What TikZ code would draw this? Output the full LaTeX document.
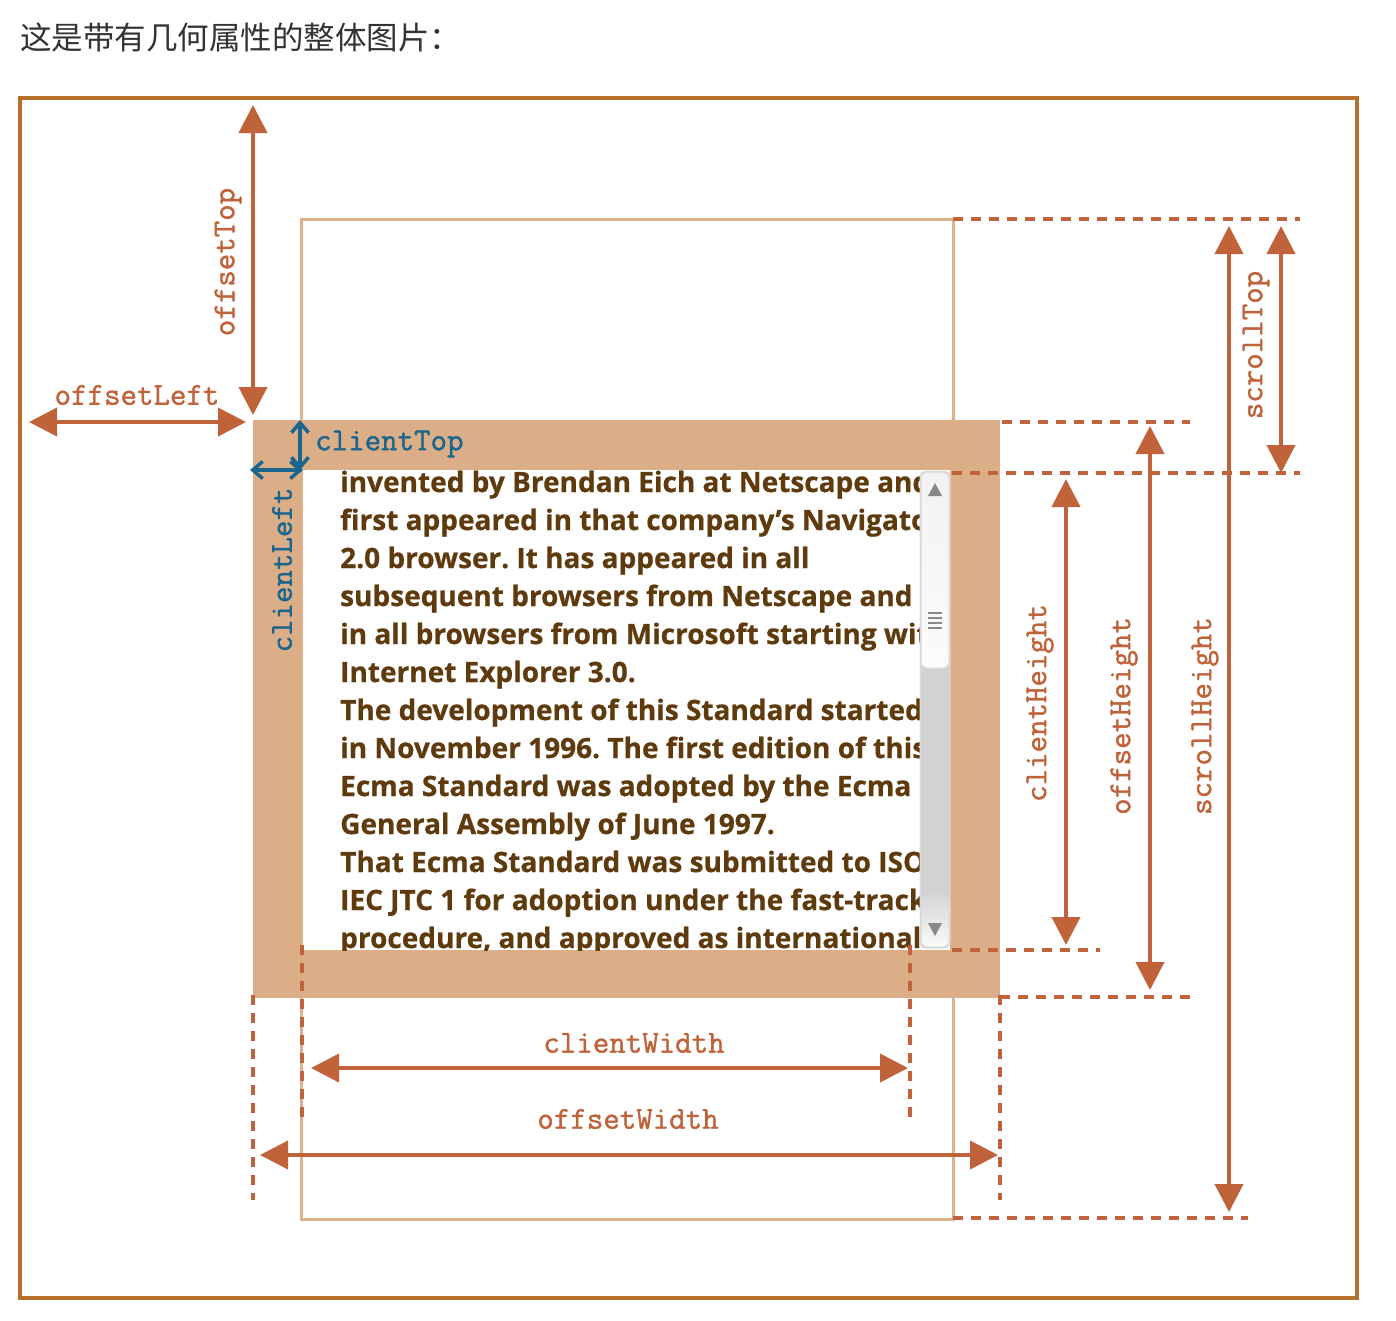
\documentclass[tikz,border=0pt]{standalone}
\usepackage{fontspec}
\usetikzlibrary{arrows.meta}
\newfontfamily\cjkfont{Noto Sans CJK SC}
\newfontfamily\bodyfont{Open Sans}[BoldFeatures={FakeBold=0.6}]
\newfontfamily\labelfont{Latin Modern Mono}[FakeBold=1.2]
\definecolor{framec}{HTML}{B5702B}
\definecolor{dimc}{HTML}{C0633A}
\definecolor{borderc}{HTML}{DBAE88}
\definecolor{scrollc}{HTML}{DDB28E}
\definecolor{bluec}{HTML}{1B658E}
\definecolor{textc}{HTML}{5E3A0C}
\definecolor{titlec}{HTML}{333333}
\definecolor{barc}{HTML}{888888}
\begin{document}
\frenchspacing
\begin{tikzpicture}[x=1pt,y=-1pt,
  dim/.style={draw=dimc, line width=4pt,
    {Triangle[length=28pt,width=28pt]}-{Triangle[length=28pt,width=28pt]}},
  bdim/.style={draw=bluec, line width=3.5pt,
    {Straight Barb[length=10pt,width=17pt]}-{Straight Barb[length=10pt,width=17pt]}},
  guide/.style={draw=dimc, line width=3.5pt, dash pattern=on 10pt off 8pt},
  lbl/.style={text=dimc, inner sep=0pt, font=\labelfont\fontsize{32}{32}\selectfont},
  blbl/.style={lbl, text=bluec},
  bodytext/.style={text=textc, inner sep=0pt, font=\bodyfont\bfseries\fontsize{28}{38}\selectfont}]
\useasboundingbox (0,0) rectangle (1396,1320);
\fill[white] (0,0) rectangle (1396,1320);

% heading
\node[anchor=base west, inner sep=0pt, text=titlec,
  font=\cjkfont\fontsize{31.5}{32}\selectfont] (title) at (20,49) {这是带有几何属性的整体图片：};

% offset parent frame
\draw[framec, line width=3.5pt] (20,98) rectangle (1357,1298);

% full scrollable content outline
\draw[scrollc, line width=3pt] (301,219) rectangle (953,1219);

% element: border and client area
\fill[borderc] (253,420) rectangle (1000,998);
\fill[white] (303,470) rectangle (950,950);

% scrolled text, clipped to the visible client area
\begin{scope}
\clip (303,470) rectangle (920,950);
\foreach \t [count=\i from 0] in {
  {invented by Brendan Eich at Netscape and},
  {first appeared in that company’s Navigator},
  {2.0 browser. It has appeared in all},
  {subsequent browsers from Netscape and},
  {in all browsers from Microsoft starting with},
  {Internet Explorer 3.0.},
  {The development of this Standard started},
  {in November 1996. The first edition of this},
  {Ecma Standard was adopted by the Ecma},
  {General Assembly of June 1997.},
  {That Ecma Standard was submitted to ISO/},
  {IEC JTC 1 for adoption under the fast-track},
  {procedure, and approved as international}}
  \node[bodytext, anchor=base west] (line\i) at (340,{492+38*\i}) {\t};
\end{scope}

% scrollbar: track, thumb, end button, glyphs
\draw[gray!25, line width=1pt, fill=gray!35, rounded corners=5pt] (920,471) rectangle (950,948);
\shadedraw[draw=gray!30, line width=1pt, rounded corners=6pt,
  top color=gray!10, middle color=gray!36, bottom color=gray!3] (921,472) rectangle (949,668);
\shadedraw[draw=gray!30, line width=1pt, rounded corners=6pt,
  top color=gray!32, bottom color=gray!4] (921,895) rectangle (949,947);
\fill[barc] (935,483) -- (928,496) -- (942,496) -- cycle;
\fill[barc] (935,936) -- (928,923) -- (942,923) -- cycle;
\foreach \y in {613,618,623,628}
  \draw[barc, line width=2.5pt] (928,\y) -- (942,\y);

% guide coordinates
\path
  coordinate (sTopA) at (953,219)  coordinate (sTopB) at (1300,219)
  coordinate (eTopA) at (1002,422) coordinate (eTopB) at (1190,422)
  coordinate (cTopA) at (952,473)  coordinate (cTopB) at (1300,473)
  coordinate (cBotA) at (952,950)  coordinate (cBotB) at (1100,950)
  coordinate (eBotA) at (1000,997) coordinate (eBotB) at (1190,997)
  coordinate (sBotA) at (953,1218) coordinate (sBotB) at (1248,1218)
  coordinate (eLftA) at (253,995)  coordinate (eLftB) at (253,1200)
  coordinate (cLftA) at (302,945)  coordinate (cLftB) at (302,1117)
  coordinate (cRgtA) at (910,945)  coordinate (cRgtB) at (910,1117)
  coordinate (eRgtA) at (1000,995) coordinate (eRgtB) at (1000,1200);
\foreach \g in {sTop,eTop,cTop,cBot,eBot,sBot,eLft,cLft,cRgt,eRgt}
  \draw[guide] (\g A) -- (\g B);

% measurement end points
\path
  coordinate (oT1) at (253,105)  coordinate (oT2) at (253,415)
  coordinate (oL1) at (29,422)   coordinate (oL2) at (246,422)
  coordinate (sT1) at (1281,226) coordinate (sT2) at (1281,473)
  coordinate (sH1) at (1229,226) coordinate (sH2) at (1229,1212)
  coordinate (oH1) at (1150,426) coordinate (oH2) at (1150,990)
  coordinate (cH1) at (1066,479) coordinate (cH2) at (1066,945)
  coordinate (cW1) at (311,1068) coordinate (cW2) at (908,1068)
  coordinate (oW1) at (260,1155) coordinate (oW2) at (998,1155)
  coordinate (cT1) at (300,420)  coordinate (cT2) at (300,470)
  coordinate (cL1) at (250,470)  coordinate (cL2) at (303,470);
\foreach \m in {oT,oL,sT,sH,oH,cH,cW,oW}
  \draw[dim] (\m1) -- (\m2);
\draw[bdim] (cT1) -- (cT2);
\draw[bdim] (cL1) -- (cL2);

% labels
\node[lbl, rotate=90] (offTop) at (228,262) {offsetTop};
\node[lbl] (offLeft) at (137,395) {offsetLeft};
\node[blbl, anchor=west] (cliTop) at (315,444) {clientTop};
\node[blbl, rotate=90] (cliLeft) at (282,570) {clientLeft};
\node[lbl, rotate=90] (cliH) at (1040,703) {clientHeight};
\node[lbl, rotate=90] (offH) at (1124,716) {offsetHeight};
\node[lbl, rotate=90] (scrH) at (1205,716) {scrollHeight};
\node[lbl, rotate=90] (scrT) at (1256,345) {scrollTop};
\node[lbl] (cliW) at (634,1043) {clientWidth};
\node[lbl] (offW) at (628,1119) {offsetWidth};
\end{tikzpicture}
\end{document}
